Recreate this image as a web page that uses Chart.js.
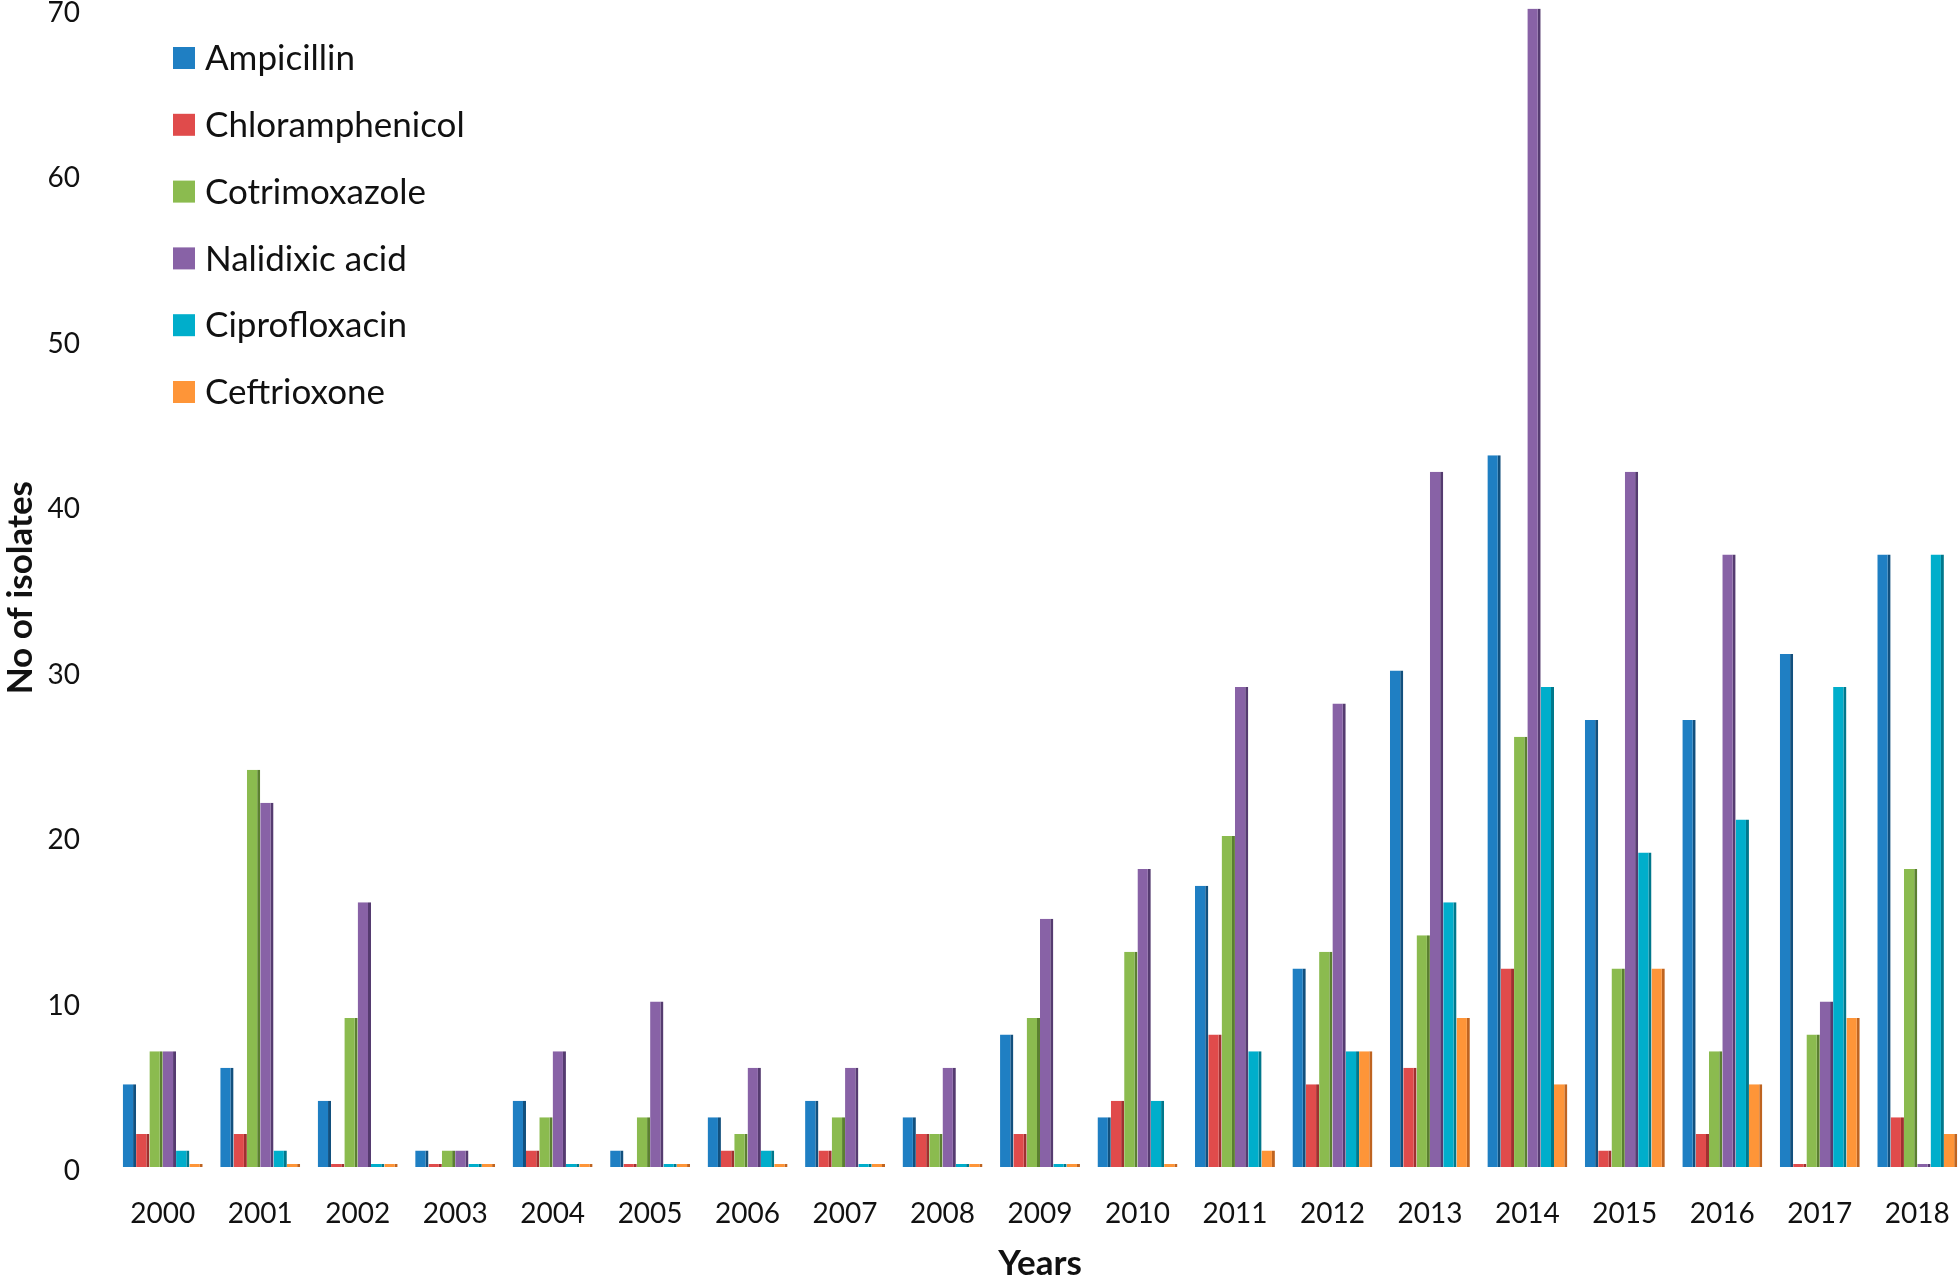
<!DOCTYPE html>
<html>
<head>
<meta charset="utf-8">
<script src="https://cdn.jsdelivr.net/npm/chart.js@4.4.1/dist/chart.umd.min.js"></script>
<style>
  html, body { margin: 0; padding: 0; background: #ffffff; overflow: hidden; }
  #wrap { width: 1960px; height: 1278px; position: relative; overflow: hidden; }
</style>
</head>
<body>
<div id="wrap"><canvas id="c" width="1966" height="1278"></canvas></div>
<script>
const years = ['2000','2001','2002','2003','2004','2005','2006','2007','2008','2009','2010','2011','2012','2013','2014','2015','2016','2017','2018'];
const ampicillin      = [5, 6, 4, 1, 4, 1, 3, 4, 3, 8, 3, 17, 12, 30, 43, 27, 27, 31, 37];
const chloramphenicol = [2, 2, 0, 0, 1, 0, 1, 1, 2, 2, 4, 8, 5, 6, 12, 1, 2, 0, 3];
const cotrimoxazole   = [7, 24, 9, 1, 3, 3, 2, 3, 2, 9, 13, 20, 13, 14, 26, 12, 7, 8, 18];
const nalidixicAcid   = [7, 22, 16, 1, 7, 10, 6, 6, 6, 15, 18, 29, 28, 42, 70, 42, 37, 10, 0];
const ciprofloxacin   = [1, 1, 0, 0, 0, 0, 1, 0, 0, 0, 4, 7, 7, 16, 29, 19, 21, 29, 37];
const ceftrioxone     = [0, 0, 0, 0, 0, 0, 0, 0, 0, 0, 0, 1, 7, 9, 5, 12, 5, 9, 2];
const yTicks = [0, 10, 20, 30, 40, 50, 60, 70];

const seriesNames = ['Ampicillin','Chloramphenicol','Cotrimoxazole','Nalidixic acid','Ciprofloxacin','Ceftrioxone'];
const seriesData = [ampicillin, chloramphenicol, cotrimoxazole, nalidixicAcid, ciprofloxacin, ceftrioxone];
const fills = ['#1f7fc3','#e04b4b','#8bbb4f','#8862a6','#00aecb','#fe9538'];
const sides = ['#12507e','#a03030','#5b8030','#553b70','#00788c','#bf6420'];

const FONT = 'Lato, "Open Sans", sans-serif';

const legendPlugin = {
  id: 'manualLegend',
  afterDraw(chart) {
    const ctx = chart.ctx;
    ctx.save();
    ctx.font = '35px ' + FONT;
    ctx.textBaseline = 'middle';
    ctx.textAlign = 'left';
    chart.data.datasets.forEach((ds, i) => {
      const cy = 58 + i * 66.8;
      ctx.fillStyle = ds.backgroundColor;
      ctx.fillRect(173, cy - 11, 22, 22);
      ctx.fillStyle = '#111111';
      ctx.fillText(ds.label, 205, cy + 1);
    });
    ctx.restore();
  }
};

new Chart(document.getElementById('c'), {
  type: 'bar',
  data: {
    labels: years,
    datasets: seriesNames.map((name, i) => ({
      label: name,
      data: seriesData[i],
      backgroundColor: fills[i],
      borderColor: sides[i],
      borderWidth: { top: 0, left: 0, bottom: 0, right: 3 },
      borderSkipped: false,
      minBarLength: 3,
      categoryPercentage: 0.82,
      barPercentage: 1.0
    }))
  },
  options: {
    responsive: false,
    animation: false,
    devicePixelRatio: 1,
    layout: { autoPadding: false, padding: { top: 8, right: 0, left: 0, bottom: 0 } },
    plugins: {
      legend: { display: false },
      tooltip: { enabled: false }
    },
    scales: {
      x: {
        grid: { display: false, drawTicks: true, tickLength: 30 },
        border: { display: false },
        ticks: { color: '#111111', font: { family: FONT, size: 28 }, padding: 0, maxRotation: 0 },
        title: { display: true, text: 'Years', color: '#111111', font: { family: FONT, size: 35, weight: 'bold' }, padding: { top: 0, bottom: -7 } },
        afterFit(s) { s.height = 111; }
      },
      y: {
        min: 0, max: 70,
        afterBuildTicks(s) { s.ticks = yTicks.map(v => ({ value: v })); },
        grid: { display: false, drawTicks: true, tickLength: 34 },
        border: { display: false },
        ticks: {
          color: '#111111', font: { family: FONT, size: 28, lineHeight: 0.3 }, padding: 0,
          callback: (v) => ['', String(v)]
        },
        title: { display: true, text: 'No of isolates', color: '#111111', font: { family: FONT, size: 35, weight: 'bold' }, padding: { top: 0, bottom: 0 } },
        afterFit(s) { s.width = 114; }
      }
    }
  },
  plugins: [legendPlugin]
});
</script>
</body>
</html>
